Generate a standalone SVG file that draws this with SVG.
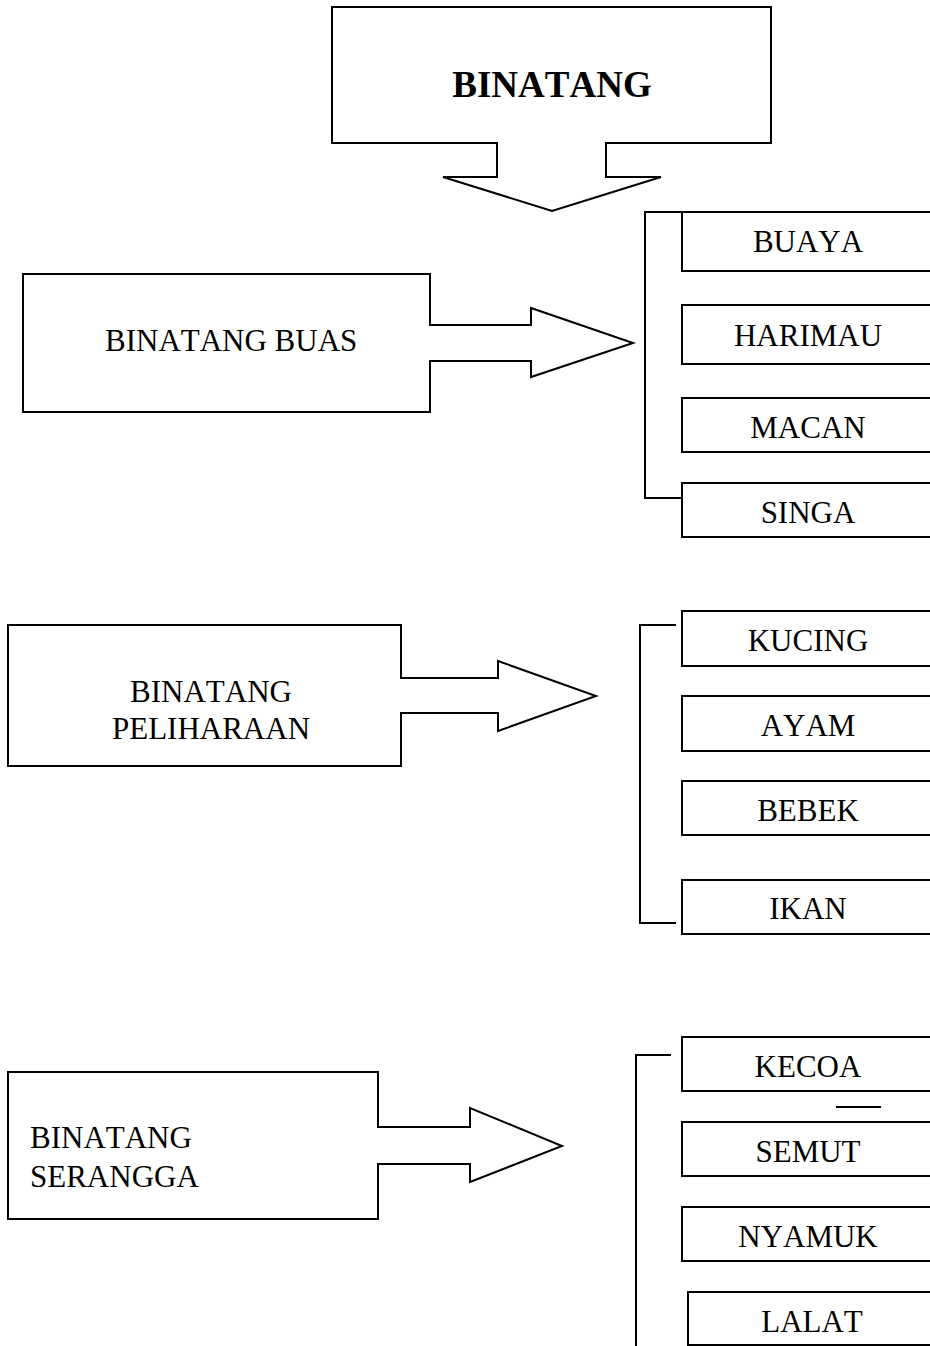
<svg xmlns="http://www.w3.org/2000/svg" width="930" height="1346" viewBox="0 0 930 1346">
<style>
.s{fill:#fff;stroke:#000;stroke-width:2;stroke-linejoin:miter}
.c{fill:none;stroke:#000;stroke-width:2}
text{font-family:"Liberation Serif","Times New Roman",serif;font-size:31px;fill:#000;font-kerning:none}
.m{text-anchor:middle}
.b{font-weight:bold;font-size:37px}
</style>
<rect width="930" height="1346" fill="#fff"/>
<g id="connectors">
<path class="c" d="M682,212 H645 V498 H682"/>
<path class="c" d="M676,625 H640 V923 H676"/>
<path class="c" d="M671,1055 H636 V1346"/>
<path class="c" d="M836,1107 H881"/>
</g>
<g id="binatang">
<path class="s" d="M332,7 H771 V143 H606 V177 H661 L552,211 L443,177 H497 V143 H332 Z"/>
<text class="b m" x="552" y="97">BINATANG</text>
</g>
<g id="buas">
<path class="s" d="M23,274 H430 V325 H531 V308 L633,343 L531,377 V361 H430 V412 H23 Z"/>
<text x="105" y="351">BINATANG BUAS</text>
</g>
<g id="peliharaan">
<path class="s" d="M8,625 H401 V678 H498 V661 L596,696 L498,731 V713 H401 V766 H8 Z"/>
<text class="m" x="211" y="702">BINATANG</text>
<text class="m" x="211" y="739">PELIHARAAN</text>
</g>
<g id="serangga">
<path class="s" d="M8,1072 H378 V1127 H470 V1108 L562,1146 L470,1182 V1164 H378 V1219 H8 Z"/>
<text x="30" y="1148">BINATANG</text>
<text x="30" y="1187">SERANGGA</text>
</g>
<g id="buaya"><rect class="s" x="682" y="212" width="260" height="59"/><text class="m" x="808" y="252">BUAYA</text></g>
<g id="harimau"><rect class="s" x="682" y="305" width="260" height="59"/><text class="m" x="808" y="346">HARIMAU</text></g>
<g id="macan"><rect class="s" x="682" y="398" width="260" height="54"/><text class="m" x="808" y="438">MACAN</text></g>
<g id="singa"><rect class="s" x="682" y="483" width="260" height="54"/><text class="m" x="808" y="523">SINGA</text></g>
<g id="kucing"><rect class="s" x="682" y="611" width="260" height="55"/><text class="m" x="808" y="651">KUCING</text></g>
<g id="ayam"><rect class="s" x="682" y="696" width="260" height="55"/><text class="m" x="808" y="736">AYAM</text></g>
<g id="bebek"><rect class="s" x="682" y="781" width="260" height="54"/><text class="m" x="808" y="821">BEBEK</text></g>
<g id="ikan"><rect class="s" x="682" y="880" width="260" height="54"/><text class="m" x="808" y="919">IKAN</text></g>
<g id="kecoa"><rect class="s" x="682" y="1037" width="260" height="54"/><text class="m" x="808" y="1077">KECOA</text></g>
<g id="semut"><rect class="s" x="682" y="1122" width="260" height="54"/><text class="m" x="808" y="1162">SEMUT</text></g>
<g id="nyamuk"><rect class="s" x="682" y="1207" width="260" height="54"/><text class="m" x="808" y="1247">NYAMUK</text></g>
<g id="lalat"><rect class="s" x="688" y="1292" width="260" height="53"/><text class="m" x="812" y="1332">LALAT</text></g>
</svg>
